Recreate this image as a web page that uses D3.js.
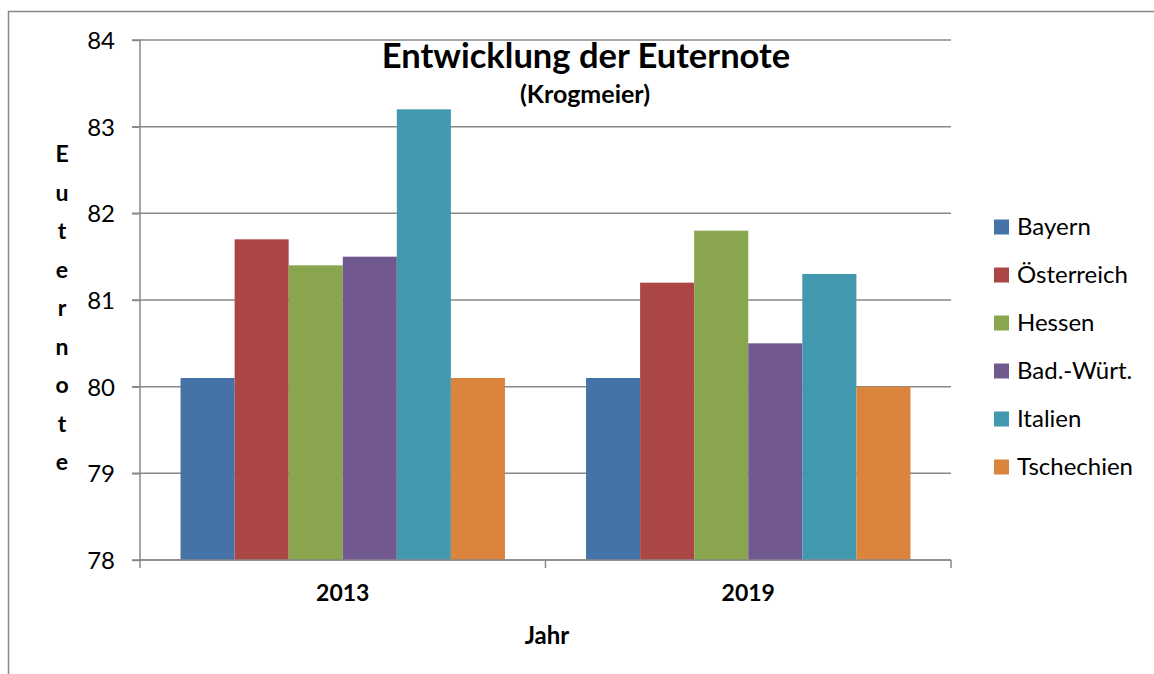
<!DOCTYPE html>
<html>
<head>
<meta charset="utf-8">
<script src="https://cdn.jsdelivr.net/npm/d3@7"></script>
<style>
  body { margin: 0; background: #fff; }
  svg text { font-family: Lato, "Open Sans", sans-serif; fill: #000; }
</style>
</head>
<body>
<div id="chart"></div>
<script>
// data
var years = ["2013", "2019"];
var regions = ["Bayern", "Österreich", "Hessen", "Bad.-Würt.", "Italien", "Tschechien"];
var values2013 = [80.1, 81.7, 81.4, 81.5, 83.2, 80.1];
var values2019 = [80.1, 81.2, 81.8, 80.5, 81.3, 80.0];
var yTicks = [78, 79, 80, 81, 82, 83, 84];
var colors = ["#4572A7", "#AA4643", "#89A54E", "#71588F", "#4198AF", "#DB843D"];

var svgWidth = 1154;
var svgHeight = 674;

var margin = { top: 40, left: 140 };
var width = 951 - margin.left;
var height = 560 - margin.top;

var svg = d3.select("#chart")
    .append("svg")
    .attr("width", svgWidth)
    .attr("height", svgHeight);

// outer frame
svg.append("rect")
    .attr("x", 8.5)
    .attr("y", 11.5)
    .attr("width", 1160)
    .attr("height", 700)
    .attr("fill", "none")
    .attr("stroke", "#888")
    .attr("stroke-width", 1.5);

var chartGroup = svg.append("g")
    .attr("transform", `translate(${margin.left}, ${margin.top})`);

// scales
var xScale = d3.scaleBand()
    .domain(years)
    .range([0, width])
    .paddingInner(0.2)
    .paddingOuter(0.1);

var xInner = d3.scaleBand()
    .domain(regions)
    .range([0, xScale.bandwidth()]);

var yScale = d3.scaleLinear()
    .domain([78, 84])
    .range([height, 0]);

// gridlines
chartGroup.append("g")
    .selectAll("line")
    .data(yTicks)
    .enter()
    .append("line")
    .attr("x1", -8)
    .attr("x2", width)
    .attr("y1", d => yScale(d))
    .attr("y2", d => yScale(d))
    .attr("stroke", "#888")
    .attr("stroke-width", 1.5);

// bars
var table = years.map(function(y, i) {
    var vals = i === 0 ? values2013 : values2019;
    return { year: y, values: regions.map((r, j) => ({ region: r, value: vals[j], color: colors[j] })) };
});

var groups = chartGroup.selectAll(".year")
    .data(table)
    .enter()
    .append("g")
    .attr("transform", d => `translate(${xScale(d.year)}, 0)`);

groups.selectAll("rect")
    .data(d => d.values)
    .enter()
    .append("rect")
    .attr("x", d => xInner(d.region))
    .attr("width", xInner.bandwidth())
    .attr("y", d => yScale(d.value))
    .attr("height", d => height - yScale(d.value))
    .attr("fill", d => d.color);

// axes
var leftAxis = d3.axisLeft(yScale).tickValues(yTicks).tickFormat(d3.format("d")).tickSize(8).tickPadding(17);
var yAxisG = chartGroup.append("g").call(leftAxis);
yAxisG.select(".domain").attr("stroke", "#888").attr("stroke-width", 1.5).attr("d", `M0,0V${height}`);
yAxisG.selectAll(".tick line").attr("stroke", "#888").attr("stroke-width", 1.5);
yAxisG.selectAll(".tick text")
    .style("font-size", "24px")
    .attr("dy", "0.35em");

// x axis line and category separators
var xAxisG = chartGroup.append("g").attr("transform", `translate(0, ${height})`);
xAxisG.append("line")
    .attr("x1", 0).attr("x2", width)
    .attr("stroke", "#888").attr("stroke-width", 1.5);
var seps = [0, (xScale("2013") + xScale.bandwidth() + xScale("2019")) / 2, width];
xAxisG.selectAll(".sep")
    .data(seps)
    .enter()
    .append("line")
    .attr("x1", d => d).attr("x2", d => d)
    .attr("y1", 0).attr("y2", 8)
    .attr("stroke", "#888").attr("stroke-width", 1.5);
xAxisG.selectAll(".cat")
    .data(years)
    .enter()
    .append("text")
    .attr("x", d => xScale(d) + xScale.bandwidth() / 2)
    .attr("y", 41)
    .attr("text-anchor", "middle")
    .style("font-size", "23px")
    .style("font-weight", "bold")
    .text(d => d);

// axis titles
svg.append("text")
    .attr("x", 547)
    .attr("y", 644)
    .attr("text-anchor", "middle")
    .style("font-size", "24px")
    .style("font-weight", "bold")
    .text("Jahr");

var yLabel = "Euternote".split("");
svg.append("g")
    .selectAll("text")
    .data(yLabel)
    .enter()
    .append("text")
    .attr("x", 62)
    .attr("y", (d, i) => 162 + i * 38.5)
    .attr("text-anchor", "middle")
    .style("font-size", "23px")
    .style("font-weight", "bold")
    .text(d => d);

// title
svg.append("text")
    .attr("x", 586)
    .attr("y", 68)
    .attr("text-anchor", "middle")
    .style("font-size", "34.5px")
    .style("font-weight", "bold")
    .text("Entwicklung der Euternote");

svg.append("text")
    .attr("x", 585)
    .attr("y", 103)
    .attr("text-anchor", "middle")
    .style("font-size", "25px")
    .style("font-weight", "bold")
    .text("(Krogmeier)");

// legend
var legend = svg.append("g")
    .selectAll("g")
    .data(regions)
    .enter()
    .append("g")
    .attr("transform", (d, i) => `translate(994, ${227 + i * 48})`);

legend.append("rect")
    .attr("x", 0)
    .attr("y", -7.5)
    .attr("width", 15)
    .attr("height", 15)
    .attr("fill", (d, i) => colors[i]);

legend.append("text")
    .attr("x", 23)
    .attr("y", 0)
    .attr("dy", "0.35em")
    .style("font-size", "24px")
    .text(d => d);
</script>
</body>
</html>
